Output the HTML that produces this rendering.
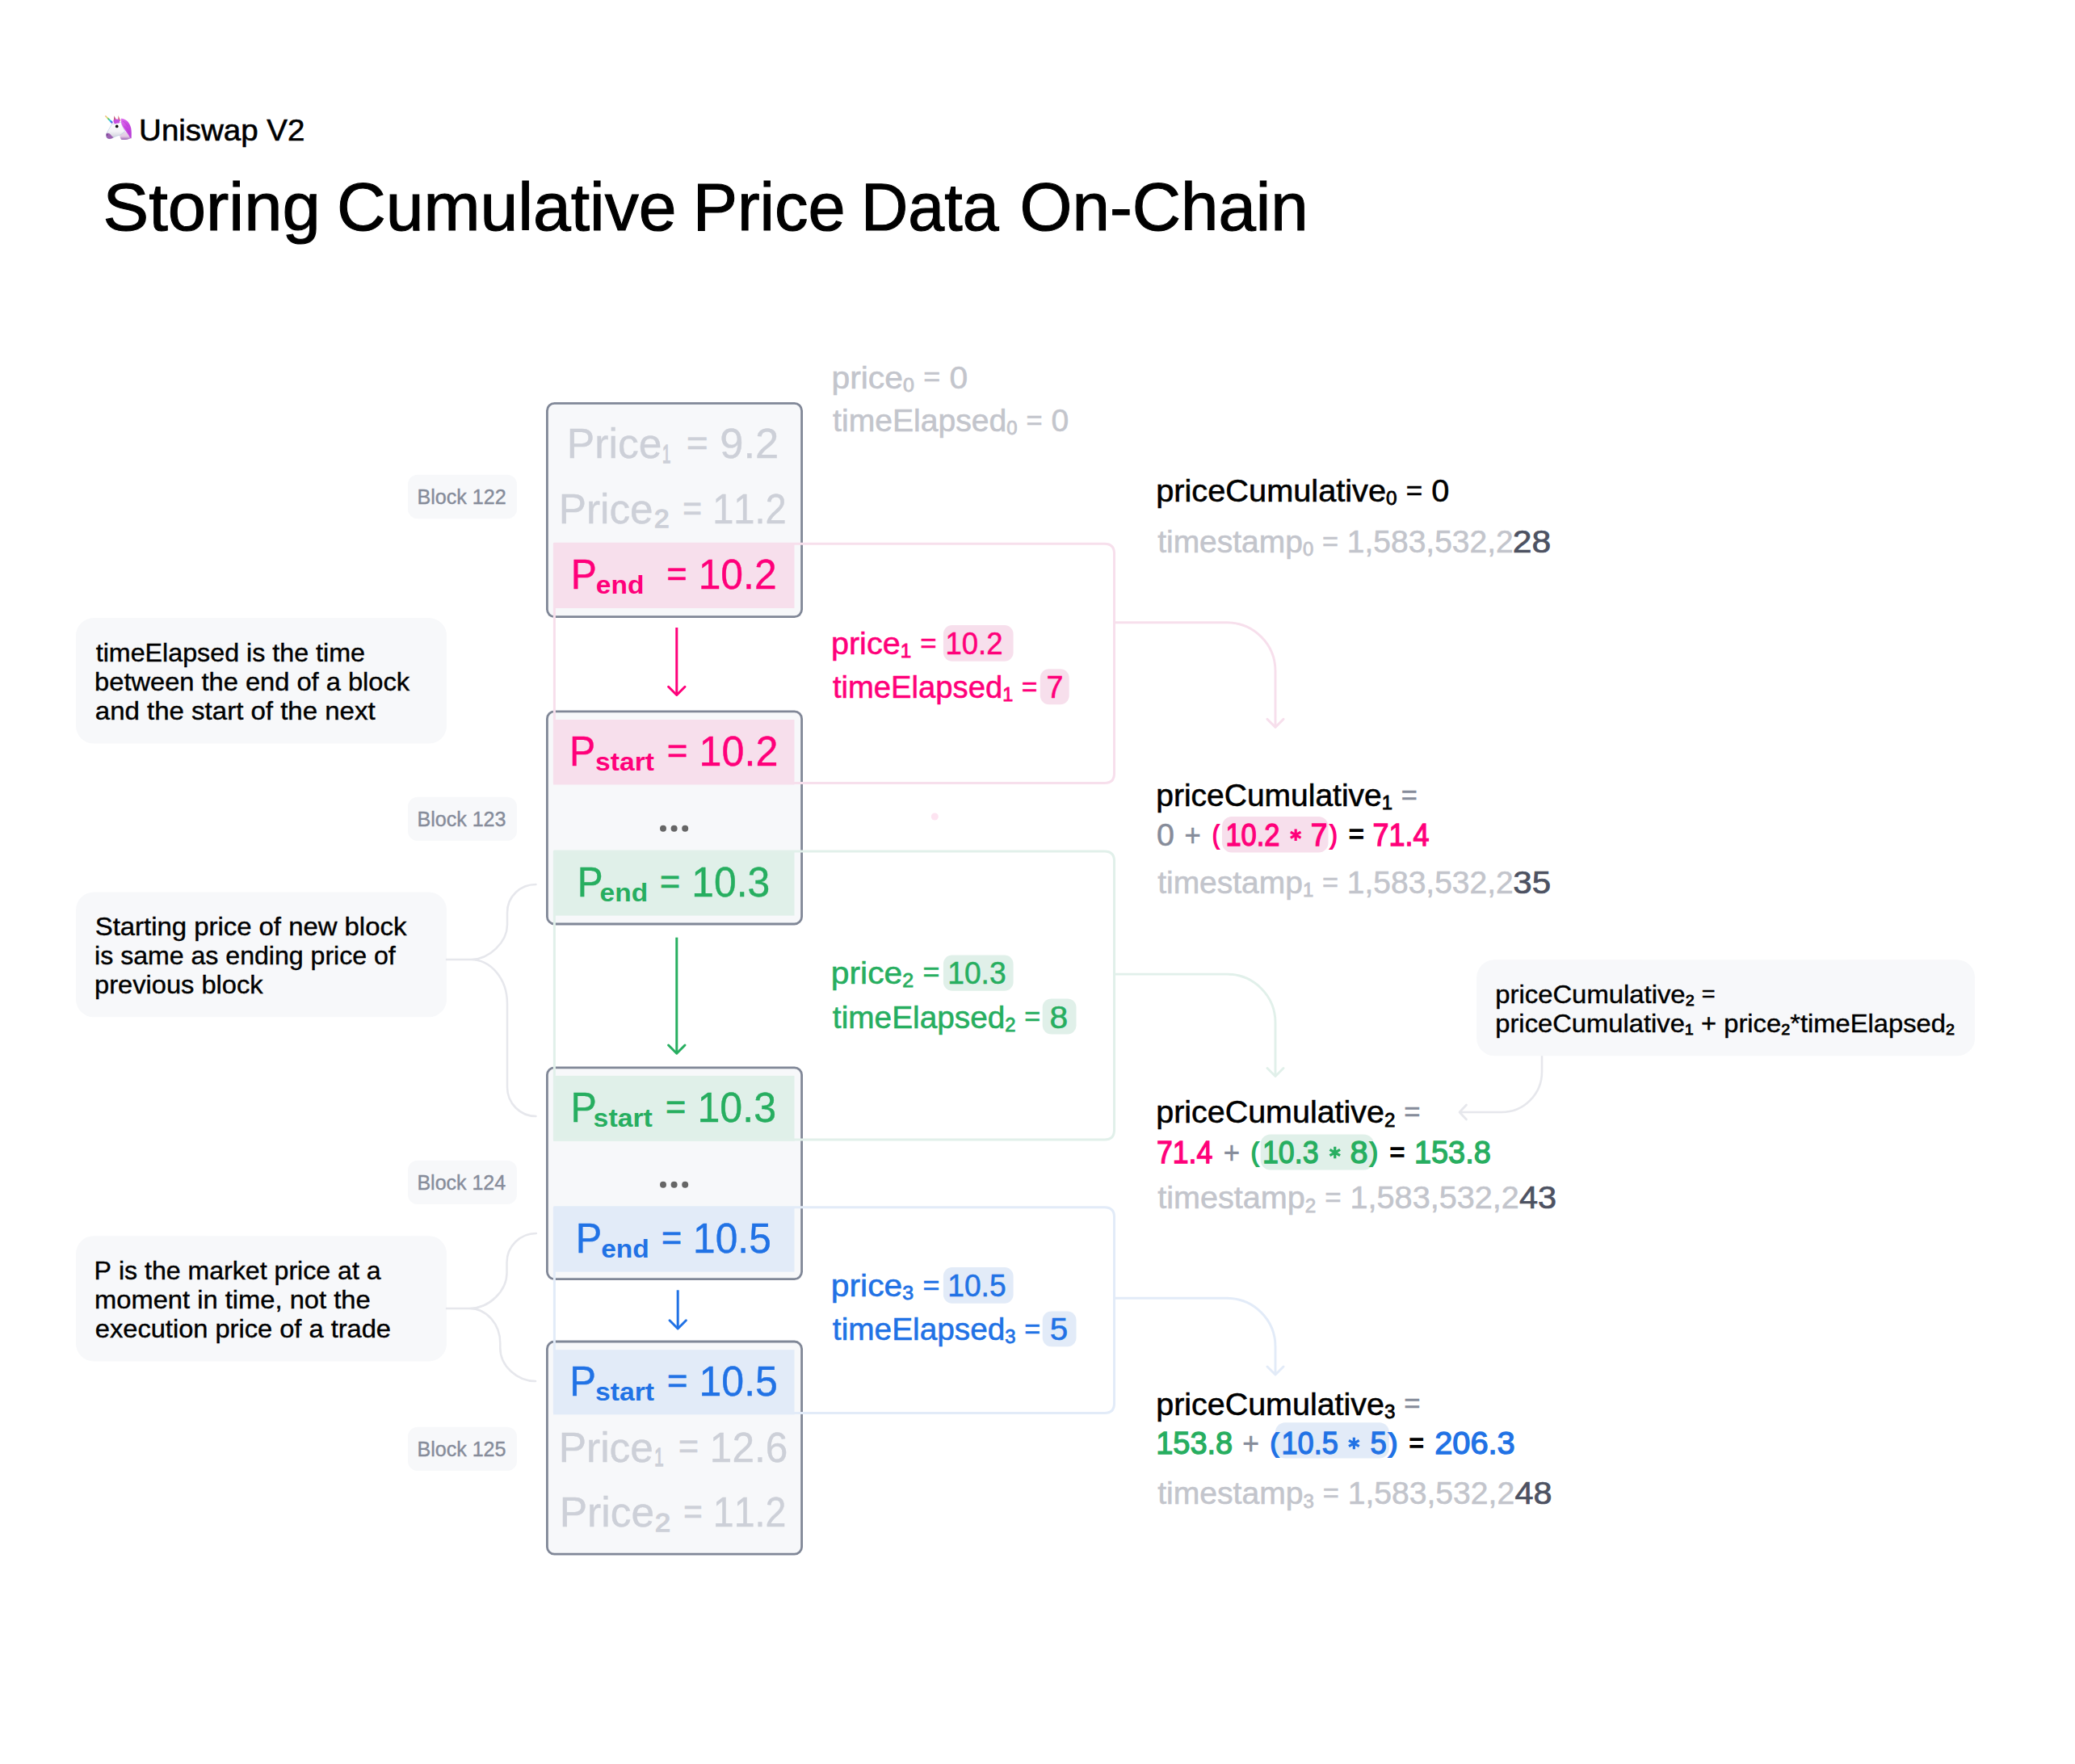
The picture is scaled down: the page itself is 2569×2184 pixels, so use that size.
<!DOCTYPE html>
<html><head><meta charset="utf-8"><title>Storing Cumulative Price Data On-Chain</title>
<style>
html,body{margin:0;padding:0;background:#ffffff;width:2569px;height:2184px;overflow:hidden}
body{position:relative}
svg text{font-family:"Liberation Sans",sans-serif;font-kerning:none;white-space:pre}
</style></head><body>
<svg width="2569" height="2184" viewBox="0 0 2569 2184" style="position:absolute;left:0;top:0">

<g transform="translate(125,138)">
  <defs>
    <linearGradient id="horn" x1="0" y1="0" x2="1" y2="1">
      <stop offset="0" stop-color="#f09a80"/><stop offset="0.25" stop-color="#eddc6a"/>
      <stop offset="0.45" stop-color="#4cbf66"/><stop offset="0.6" stop-color="#3fd3ea"/>
      <stop offset="0.78" stop-color="#3877e6"/><stop offset="1" stop-color="#c050ee"/>
    </linearGradient>
    <linearGradient id="face" x1="0" y1="0" x2="0" y2="1">
      <stop offset="0" stop-color="#ffffff"/><stop offset="0.55" stop-color="#f3f3f7"/><stop offset="1" stop-color="#c9cad6"/>
    </linearGradient>
    <linearGradient id="neck" x1="0" y1="0" x2="0" y2="1">
      <stop offset="0" stop-color="#e6dcec"/><stop offset="0.6" stop-color="#e2c8e2"/><stop offset="1" stop-color="#9a62b4"/>
    </linearGradient>
    <linearGradient id="mane" x1="0" y1="0" x2="1" y2="1">
      <stop offset="0" stop-color="#e070f0"/><stop offset="0.5" stop-color="#c848e0"/><stop offset="1" stop-color="#b43ad4"/>
    </linearGradient>
  </defs>
  <path d="M4.8,5.8 L6,4.9 L15,13.2 L13.4,15.2 Z" fill="url(#horn)"/>
  <path d="M23.2,29.4 C25,26.5 28,25 30,24.6 L34.5,29 L37,33.2 C34,34.6 30,35.2 26,35 C24.6,34.8 23.8,33 23.2,29.4 Z" fill="url(#neck)"/>
  <path d="M13.6,15.6 C11,20 8.2,24.8 6.6,28 C6,30 6.6,32.4 8.6,33.4 C10.4,34.2 12.6,33.8 14.4,32.8 C17,31.2 20,30 23.2,29.4 C25.6,28.2 28.2,26 29.6,24.2 C28,21 26,17.4 25,13.6 L22,13.4 L17.6,15.2 Z" fill="url(#face)" stroke="#a9bedb" stroke-width="0.5"/>
  <path d="M6.6,27.2 C8.6,26.4 10.6,27 12.2,29 C13.2,30.4 14.4,31.6 15.6,32 C13.4,33.6 10.8,34.4 8.6,33.6 C6.6,32.6 5.8,29.8 6.6,27.2 Z" fill="#9d62b3"/>
  <path d="M15.7,11.6 L16.4,5.2 L19,10.6 Z" fill="#c65a84"/>
  <path d="M21,12.4 L21.5,5 L24.2,11.6 Z" fill="#d9677e"/>
  <path d="M15.4,11.2 C17,9.2 20,9 22.8,10 C23.6,11.4 23.2,13.6 22.2,14.8 C20.6,14.2 19,14.4 17.6,15.6 C16.2,14.6 15.4,13 15.4,11.2 Z" fill="#c64ee0"/>
  <path d="M24.8,8.8 C30.5,8.6 35.6,13.6 37.2,20.4 C38,24.6 37.8,29.4 37.6,33.6 L36,32.6 C34.2,28.6 31.6,25.6 29.4,22.4 C27,19 25.2,15.6 24.8,12.4 Z" fill="url(#mane)"/>
  <path d="M26.5,12 C29,12.5 31.5,15 33.2,18.6 M28.6,18.4 C31,19.6 33.4,22.6 35,26" fill="none" stroke="#a030c0" stroke-width="0.7" stroke-opacity="0.6"/>
  <circle cx="19.7" cy="18.4" r="1.85" fill="#111"/>
  <circle cx="7.7" cy="28.9" r="0.7" fill="#4a2060"/>
</g>
<text x="172.13" y="174.30" fill="#000000" textLength="205.30" lengthAdjust="spacingAndGlyphs" stroke="#000" stroke-width="0.6"><tspan font-size="36.80">Uniswap V2</tspan></text>
<text x="127.49" y="284.80" fill="#000000" textLength="269.24" lengthAdjust="spacingAndGlyphs" stroke="#000" stroke-width="1.1"><tspan font-size="82.80">Storing</tspan></text>
<text x="416.98" y="284.80" fill="#000000" textLength="420.61" lengthAdjust="spacingAndGlyphs" stroke="#000" stroke-width="1.1"><tspan font-size="82.80">Cumulative</tspan></text>
<text x="857.65" y="284.80" fill="#000000" textLength="188.99" lengthAdjust="spacingAndGlyphs" stroke="#000" stroke-width="1.1"><tspan font-size="82.80">Price</tspan></text>
<text x="1066.03" y="284.80" fill="#000000" textLength="170.52" lengthAdjust="spacingAndGlyphs" stroke="#000" stroke-width="1.1"><tspan font-size="82.80">Data</tspan></text>
<text x="1262.60" y="284.80" fill="#000000" textLength="357.17" lengthAdjust="spacingAndGlyphs" stroke="#000" stroke-width="1.1"><tspan font-size="82.80">On-Chain</tspan></text>
<rect x="94.00" y="765.00" width="459.00" height="155.60" rx="22" fill="#f7f8fa"/>
<text x="118.71" y="819.20" fill="#000000" textLength="333.22" lengthAdjust="spacingAndGlyphs" stroke="#000" stroke-width="0.4"><tspan font-size="31.40">timeElapsed is the time</tspan></text>
<text x="117.10" y="854.90" fill="#000000" textLength="390.06" lengthAdjust="spacingAndGlyphs" stroke="#000" stroke-width="0.4"><tspan font-size="31.40">between the end of a block</tspan></text>
<text x="117.80" y="890.60" fill="#000000" textLength="346.84" lengthAdjust="spacingAndGlyphs" stroke="#000" stroke-width="0.4"><tspan font-size="31.40">and the start of the next</tspan></text>
<rect x="94.00" y="1104.60" width="459.00" height="154.70" rx="22" fill="#f7f8fa"/>
<text x="117.71" y="1158.00" fill="#000000" textLength="385.65" lengthAdjust="spacingAndGlyphs" stroke="#000" stroke-width="0.4"><tspan font-size="31.40">Starting price of new block</tspan></text>
<text x="117.05" y="1194.20" fill="#000000" textLength="372.70" lengthAdjust="spacingAndGlyphs" stroke="#000" stroke-width="0.4"><tspan font-size="31.40">is same as ending price of</tspan></text>
<text x="117.10" y="1229.80" fill="#000000" textLength="208.45" lengthAdjust="spacingAndGlyphs" stroke="#000" stroke-width="0.4"><tspan font-size="31.40">previous block</tspan></text>
<rect x="94.00" y="1530.20" width="459.00" height="155.30" rx="22" fill="#f7f8fa"/>
<text x="116.57" y="1583.70" fill="#000000" textLength="355.03" lengthAdjust="spacingAndGlyphs" stroke="#000" stroke-width="0.4"><tspan font-size="31.40">P is the market price at a</tspan></text>
<text x="117.03" y="1619.90" fill="#000000" textLength="341.62" lengthAdjust="spacingAndGlyphs" stroke="#000" stroke-width="0.4"><tspan font-size="31.40">moment in time, not the</tspan></text>
<text x="117.81" y="1655.50" fill="#000000" textLength="366.23" lengthAdjust="spacingAndGlyphs" stroke="#000" stroke-width="0.4"><tspan font-size="31.40">execution price of a trade</tspan></text>
<path d="M553,1188 H583 C606,1188 628,1166 628,1145 V1130 C628,1110 644,1095 663.5,1095 M583,1188 C606,1188 628,1210 628,1243 V1346 C628,1366 644,1382 663.5,1382" fill="none" stroke="#e6e7ec" stroke-width="2.5" stroke-linecap="round" stroke-linejoin="round"/>
<path d="M553,1620 H581 C606,1620 627.5,1598 627.5,1576 V1563 C627.5,1543 644,1527 663.8,1527 M581,1620 C603,1620 619.3,1640 619.3,1663 V1669 C619.3,1691 640,1710 663,1710" fill="none" stroke="#e6e7ec" stroke-width="2.5" stroke-linecap="round" stroke-linejoin="round"/>
<rect x="505.00" y="587.70" width="135.00" height="54.50" rx="12" fill="#f7f8fa"/>
<text x="516.44" y="624.00" fill="#868c9a" textLength="110.22" lengthAdjust="spacingAndGlyphs" stroke="#868c9a" stroke-width="0.4"><tspan font-size="25.20">Block 122</tspan></text>
<rect x="505.00" y="986.80" width="135.00" height="54.10" rx="12" fill="#f7f8fa"/>
<text x="516.44" y="1022.90" fill="#868c9a" textLength="110.06" lengthAdjust="spacingAndGlyphs" stroke="#868c9a" stroke-width="0.4"><tspan font-size="25.20">Block 123</tspan></text>
<rect x="505.00" y="1436.80" width="135.00" height="54.10" rx="12" fill="#f7f8fa"/>
<text x="516.45" y="1472.90" fill="#868c9a" textLength="109.68" lengthAdjust="spacingAndGlyphs" stroke="#868c9a" stroke-width="0.4"><tspan font-size="25.20">Block 124</tspan></text>
<rect x="505.00" y="1766.80" width="135.00" height="54.10" rx="12" fill="#f7f8fa"/>
<text x="516.45" y="1802.90" fill="#868c9a" textLength="110.01" lengthAdjust="spacingAndGlyphs" stroke="#868c9a" stroke-width="0.4"><tspan font-size="25.20">Block 125</tspan></text>
<rect x="677.40" y="499.40" width="315.20" height="264.20" rx="9" fill="#f7f8fa"/>
<rect x="677.40" y="880.90" width="315.20" height="263.10" rx="9" fill="#f7f8fa"/>
<rect x="677.40" y="1321.80" width="315.20" height="261.80" rx="9" fill="#f7f8fa"/>
<rect x="677.40" y="1661.00" width="315.20" height="263.20" rx="9" fill="#f7f8fa"/>
<rect x="685.00" y="672.00" width="298.50" height="81.00" rx="0" fill="#f7dfec"/>
<rect x="685.00" y="891.00" width="298.50" height="80.50" rx="0" fill="#f7dfec"/>
<rect x="685.00" y="1053.00" width="298.50" height="80.60" rx="0" fill="#e0f0e9"/>
<rect x="685.00" y="1331.90" width="298.50" height="80.90" rx="0" fill="#e0f0e9"/>
<rect x="685.00" y="1494.40" width="298.50" height="80.30" rx="0" fill="#e2ebf8"/>
<rect x="685.00" y="1671.20" width="298.50" height="80.20" rx="0" fill="#e2ebf8"/>
<rect x="677.40" y="499.40" width="315.20" height="264.20" rx="9" fill="none" stroke="#808797" stroke-width="2.8"/>
<rect x="677.40" y="880.90" width="315.20" height="263.10" rx="9" fill="none" stroke="#808797" stroke-width="2.8"/>
<rect x="677.40" y="1321.80" width="315.20" height="261.80" rx="9" fill="none" stroke="#808797" stroke-width="2.8"/>
<rect x="677.40" y="1661.00" width="315.20" height="263.20" rx="9" fill="none" stroke="#808797" stroke-width="2.8"/>
<path d="M686.4,673.2 H1367.5 Q1379.5,673.2 1379.5,685.2 V957.6 Q1379.5,969.6 1367.5,969.6 H686.4 Z" fill="none" stroke="#f7dfec" stroke-width="3" stroke-linejoin="round" stroke-linecap="butt"/>
<path d="M686.4,1054.1 H1367.5 Q1379.5,1054.1 1379.5,1066.1 V1399 Q1379.5,1411 1367.5,1411 H686.4 Z" fill="none" stroke="#e1f0ea" stroke-width="3" stroke-linejoin="round" stroke-linecap="butt"/>
<path d="M686.4,1494.7 H1367.5 Q1379.5,1494.7 1379.5,1506.7 V1737.6 Q1379.5,1749.6 1367.5,1749.6 H686.4 Z" fill="none" stroke="#e2ebf8" stroke-width="3" stroke-linejoin="round" stroke-linecap="butt"/>
<path d="M1379.5,770.8 H1519 A60,60 0 0 1 1579,830.8 V900.4 M1569,890.4 L1579,900.4 L1589,890.4" fill="none" stroke="#f7dfec" stroke-width="2.9" stroke-linecap="round" stroke-linejoin="round"/>
<path d="M1379.5,1206.1 H1519 A60,60 0 0 1 1579,1266.1 V1332.5 M1569,1322.5 L1579,1332.5 L1589,1322.5" fill="none" stroke="#e1f0ea" stroke-width="2.9" stroke-linecap="round" stroke-linejoin="round"/>
<path d="M1379.5,1607.3 H1519 A60,60 0 0 1 1579,1667.3 V1702 M1569,1692 L1579,1702 L1589,1692" fill="none" stroke="#e2ebf8" stroke-width="2.9" stroke-linecap="round" stroke-linejoin="round"/>
<path d="M1909,1307.3 V1327 A50,50 0 0 1 1859,1377 H1807 M1815.5,1368 L1807,1377 L1815.5,1386" fill="none" stroke="#e6e7ec" stroke-width="2.6" stroke-linecap="round" stroke-linejoin="round"/>
<path d="M837.8,777 V859.0" fill="none" stroke="#ff007a" stroke-width="3" stroke-linejoin="round" stroke-linecap="butt"/>
<path d="M827.5999999999999,850.3 L837.8,860.5 L848.0,850.3" fill="none" stroke="#ff007a" stroke-width="3" stroke-linecap="round" stroke-linejoin="round"/>
<path d="M837.8,1160.7 V1302.7" fill="none" stroke="#27ae60" stroke-width="3" stroke-linejoin="round" stroke-linecap="butt"/>
<path d="M827.5999999999999,1294.0 L837.8,1304.2 L848.0,1294.0" fill="none" stroke="#27ae60" stroke-width="3" stroke-linecap="round" stroke-linejoin="round"/>
<path d="M839.2,1597.3 V1643.5" fill="none" stroke="#2172e5" stroke-width="3" stroke-linejoin="round" stroke-linecap="butt"/>
<path d="M829.0,1634.8 L839.2,1645 L849.4000000000001,1634.8" fill="none" stroke="#2172e5" stroke-width="3" stroke-linecap="round" stroke-linejoin="round"/>
<circle cx="821" cy="1025.7" r="4" fill="#666666"/>
<circle cx="834.6" cy="1025.7" r="4" fill="#666666"/>
<circle cx="848.2" cy="1025.7" r="4" fill="#666666"/>
<circle cx="821" cy="1466.8" r="4" fill="#666666"/>
<circle cx="834.6" cy="1466.8" r="4" fill="#666666"/>
<circle cx="848.2" cy="1466.8" r="4" fill="#666666"/>
<circle cx="1157.3" cy="1011" r="4.5" fill="#fde4f1"/>
<text x="701.87" y="567.00" fill="#cdd0d8" textLength="117.52" lengthAdjust="spacingAndGlyphs" stroke="#cdd0d8" stroke-width="0.4"><tspan font-size="50.90">Price</tspan></text>
<text x="819.99" y="572.70" fill="#cdd0d8" textLength="10.32" lengthAdjust="spacingAndGlyphs" stroke="#cdd0d8" stroke-width="1.4"><tspan font-size="31.00">1</tspan></text>
<text x="849.74" y="567.00" fill="#cdd0d8" textLength="114.60" lengthAdjust="spacingAndGlyphs" stroke="#cdd0d8" stroke-width="0.4"><tspan font-size="44.79" dy="-3.21">=</tspan><tspan font-size="50.90" dy="3.21"> 9.2</tspan></text>
<text x="691.69" y="648.00" fill="#cdd0d8" textLength="116.99" lengthAdjust="spacingAndGlyphs" stroke="#cdd0d8" stroke-width="0.4"><tspan font-size="50.90">Price</tspan></text>
<text x="809.92" y="653.40" fill="#cdd0d8" textLength="18.56" lengthAdjust="spacingAndGlyphs" stroke="#cdd0d8" stroke-width="1.4"><tspan font-size="31.00">2</tspan></text>
<text x="844.88" y="648.00" fill="#cdd0d8" textLength="128.89" lengthAdjust="spacingAndGlyphs" stroke="#cdd0d8" stroke-width="0.4"><tspan font-size="44.79" dy="-3.21">=</tspan><tspan font-size="50.90" dy="3.21"> 11.2</tspan></text>
<text x="706.75" y="729.10" fill="#ff007a" textLength="32.08" lengthAdjust="spacingAndGlyphs" stroke="#ff007a" stroke-width="0.4"><tspan font-size="50.90">P</tspan></text>
<text x="737.79" y="735.10" fill="#ff007a" textLength="59.62" lengthAdjust="spacingAndGlyphs" stroke="#ff007a" stroke-width="0"><tspan font-size="30.50" font-weight="700">end</tspan></text>
<text x="825.26" y="729.10" fill="#ff007a" textLength="136.34" lengthAdjust="spacingAndGlyphs" stroke="#ff007a" stroke-width="0.4"><tspan font-size="44.79" dy="-3.21">=</tspan><tspan font-size="50.90" dy="3.21"> 10.2</tspan></text>
<text x="704.94" y="948.20" fill="#ff007a" textLength="32.21" lengthAdjust="spacingAndGlyphs" stroke="#ff007a" stroke-width="0.4"><tspan font-size="50.90">P</tspan></text>
<text x="737.02" y="953.80" fill="#ff007a" textLength="73.00" lengthAdjust="spacingAndGlyphs" stroke="#ff007a" stroke-width="0"><tspan font-size="30.50" font-weight="700">start</tspan></text>
<text x="825.84" y="948.20" fill="#ff007a" textLength="137.59" lengthAdjust="spacingAndGlyphs" stroke="#ff007a" stroke-width="0.4"><tspan font-size="44.79" dy="-3.21">=</tspan><tspan font-size="50.90" dy="3.21"> 10.2</tspan></text>
<text x="714.79" y="1110.30" fill="#27ae60" textLength="31.83" lengthAdjust="spacingAndGlyphs" stroke="#27ae60" stroke-width="0.4"><tspan font-size="50.90">P</tspan></text>
<text x="742.59" y="1115.90" fill="#27ae60" textLength="59.51" lengthAdjust="spacingAndGlyphs" stroke="#27ae60" stroke-width="0"><tspan font-size="30.50" font-weight="700">end</tspan></text>
<text x="816.76" y="1110.30" fill="#27ae60" textLength="136.53" lengthAdjust="spacingAndGlyphs" stroke="#27ae60" stroke-width="0.4"><tspan font-size="44.79" dy="-3.21">=</tspan><tspan font-size="50.90" dy="3.21"> 10.3</tspan></text>
<text x="706.52" y="1389.00" fill="#27ae60" textLength="32.33" lengthAdjust="spacingAndGlyphs" stroke="#27ae60" stroke-width="0.4"><tspan font-size="50.90">P</tspan></text>
<text x="734.61" y="1394.90" fill="#27ae60" textLength="73.20" lengthAdjust="spacingAndGlyphs" stroke="#27ae60" stroke-width="0"><tspan font-size="30.50" font-weight="700">start</tspan></text>
<text x="823.85" y="1389.00" fill="#27ae60" textLength="137.15" lengthAdjust="spacingAndGlyphs" stroke="#27ae60" stroke-width="0.4"><tspan font-size="44.79" dy="-3.21">=</tspan><tspan font-size="50.90" dy="3.21"> 10.3</tspan></text>
<text x="712.81" y="1551.30" fill="#2172e5" textLength="32.46" lengthAdjust="spacingAndGlyphs" stroke="#2172e5" stroke-width="0.4"><tspan font-size="50.90">P</tspan></text>
<text x="744.19" y="1556.90" fill="#2172e5" textLength="59.62" lengthAdjust="spacingAndGlyphs" stroke="#2172e5" stroke-width="0"><tspan font-size="30.50" font-weight="700">end</tspan></text>
<text x="818.77" y="1551.30" fill="#2172e5" textLength="136.02" lengthAdjust="spacingAndGlyphs" stroke="#2172e5" stroke-width="0.4"><tspan font-size="44.79" dy="-3.21">=</tspan><tspan font-size="50.90" dy="3.21"> 10.5</tspan></text>
<text x="705.18" y="1728.00" fill="#2172e5" textLength="32.71" lengthAdjust="spacingAndGlyphs" stroke="#2172e5" stroke-width="0.4"><tspan font-size="50.90">P</tspan></text>
<text x="737.02" y="1734.10" fill="#2172e5" textLength="73.00" lengthAdjust="spacingAndGlyphs" stroke="#2172e5" stroke-width="0"><tspan font-size="30.50" font-weight="700">start</tspan></text>
<text x="825.85" y="1728.00" fill="#2172e5" textLength="137.05" lengthAdjust="spacingAndGlyphs" stroke="#2172e5" stroke-width="0.4"><tspan font-size="44.79" dy="-3.21">=</tspan><tspan font-size="50.90" dy="3.21"> 10.5</tspan></text>
<text x="691.68" y="1809.60" fill="#cdd0d8" textLength="117.31" lengthAdjust="spacingAndGlyphs" stroke="#cdd0d8" stroke-width="0.4"><tspan font-size="50.90">Price</tspan></text>
<text x="810.15" y="1814.70" fill="#cdd0d8" textLength="11.35" lengthAdjust="spacingAndGlyphs" stroke="#cdd0d8" stroke-width="1.4"><tspan font-size="31.00">1</tspan></text>
<text x="839.67" y="1809.60" fill="#cdd0d8" textLength="135.60" lengthAdjust="spacingAndGlyphs" stroke="#cdd0d8" stroke-width="0.4"><tspan font-size="44.79" dy="-3.21">=</tspan><tspan font-size="50.90" dy="3.21"> 12.6</tspan></text>
<text x="692.67" y="1890.20" fill="#cdd0d8" textLength="117.42" lengthAdjust="spacingAndGlyphs" stroke="#cdd0d8" stroke-width="0.4"><tspan font-size="50.90">Price</tspan></text>
<text x="810.98" y="1896.00" fill="#cdd0d8" textLength="19.04" lengthAdjust="spacingAndGlyphs" stroke="#cdd0d8" stroke-width="1.4"><tspan font-size="31.00">2</tspan></text>
<text x="846.00" y="1890.20" fill="#cdd0d8" textLength="127.34" lengthAdjust="spacingAndGlyphs" stroke="#cdd0d8" stroke-width="0.4"><tspan font-size="44.79" dy="-3.21">=</tspan><tspan font-size="50.90" dy="3.21"> 11.2</tspan></text>
<text x="1029.44" y="480.50" fill="#c3c5cc" textLength="168.88" lengthAdjust="spacingAndGlyphs" stroke-width="0.55" stroke="#c3c5cc"><tspan font-size="38.40">price</tspan><tspan font-size="23.50" stroke-width="0.8" dy="4.20">0</tspan><tspan font-size="38.40" dy="-4.20"> </tspan><tspan font-size="33.79" dy="-2.42">=</tspan><tspan font-size="38.40" dy="2.42"> 0</tspan></text>
<text x="1031.08" y="534.10" fill="#c3c5cc" textLength="292.17" lengthAdjust="spacingAndGlyphs" stroke-width="0.55" stroke="#c3c5cc"><tspan font-size="38.40">timeElapsed</tspan><tspan font-size="23.50" stroke-width="0.8" dy="4.20">0</tspan><tspan font-size="38.40" dy="-4.20"> </tspan><tspan font-size="33.79" dy="-2.42">=</tspan><tspan font-size="38.40" dy="2.42"> 0</tspan></text>
<rect x="1167.90" y="774.00" width="86.70" height="44.80" rx="11" fill="#f7dfec"/>
<rect x="1287.80" y="828.20" width="35.90" height="44.10" rx="11" fill="#f7dfec"/>
<rect x="1167.90" y="1182.60" width="86.70" height="44.10" rx="11" fill="#e0f0e9"/>
<rect x="1290.70" y="1236.40" width="41.80" height="44.10" rx="11" fill="#e0f0e9"/>
<rect x="1167.90" y="1569.00" width="86.70" height="44.80" rx="11" fill="#e2ebf8"/>
<rect x="1290.70" y="1623.50" width="41.80" height="43.80" rx="11" fill="#e2ebf8"/>
<text x="1028.92" y="810.00" fill="#ff007a" textLength="130.72" lengthAdjust="spacingAndGlyphs" stroke-width="0.55" stroke="#ff007a"><tspan font-size="38.40">price</tspan><tspan font-size="23.50" stroke-width="0.8" dy="4.20">1</tspan><tspan font-size="38.40" dy="-4.20"> </tspan><tspan font-size="33.79" dy="-2.42">=</tspan></text>
<text x="1170.39" y="810.00" fill="#ff007a" textLength="71.07" lengthAdjust="spacingAndGlyphs" stroke-width="0.55" stroke="#ff007a"><tspan font-size="38.40">10.2</tspan></text>
<text x="1030.90" y="864.20" fill="#ff007a" textLength="253.59" lengthAdjust="spacingAndGlyphs" stroke-width="0.55" stroke="#ff007a"><tspan font-size="38.40">timeElapsed</tspan><tspan font-size="23.50" stroke-width="0.8" dy="4.20">1</tspan><tspan font-size="38.40" dy="-4.20"> </tspan><tspan font-size="33.79" dy="-2.42">=</tspan></text>
<text x="1295.54" y="864.20" fill="#ff007a" textLength="20.98" lengthAdjust="spacingAndGlyphs" stroke-width="0.55" stroke="#ff007a"><tspan font-size="38.40">7</tspan></text>
<text x="1028.84" y="1217.90" fill="#27ae60" textLength="134.65" lengthAdjust="spacingAndGlyphs" stroke-width="0.55" stroke="#27ae60"><tspan font-size="38.40">price</tspan><tspan font-size="23.50" stroke-width="0.8" dy="4.20">2</tspan><tspan font-size="38.40" dy="-4.20"> </tspan><tspan font-size="33.79" dy="-2.42">=</tspan></text>
<text x="1173.24" y="1217.90" fill="#27ae60" textLength="72.42" lengthAdjust="spacingAndGlyphs" stroke-width="0.55" stroke="#27ae60"><tspan font-size="38.40">10.3</tspan></text>
<text x="1030.89" y="1272.80" fill="#27ae60" textLength="257.42" lengthAdjust="spacingAndGlyphs" stroke-width="0.55" stroke="#27ae60"><tspan font-size="38.40">timeElapsed</tspan><tspan font-size="23.50" stroke-width="0.8" dy="4.20">2</tspan><tspan font-size="38.40" dy="-4.20"> </tspan><tspan font-size="33.79" dy="-2.42">=</tspan></text>
<text x="1299.50" y="1272.80" fill="#27ae60" textLength="22.70" lengthAdjust="spacingAndGlyphs" stroke-width="0.55" stroke="#27ae60"><tspan font-size="38.40">8</tspan></text>
<text x="1028.84" y="1605.00" fill="#2172e5" textLength="134.65" lengthAdjust="spacingAndGlyphs" stroke-width="0.55" stroke="#2172e5"><tspan font-size="38.40">price</tspan><tspan font-size="23.50" stroke-width="0.8" dy="4.20">3</tspan><tspan font-size="38.40" dy="-4.20"> </tspan><tspan font-size="33.79" dy="-2.42">=</tspan></text>
<text x="1173.24" y="1605.00" fill="#2172e5" textLength="72.34" lengthAdjust="spacingAndGlyphs" stroke-width="0.55" stroke="#2172e5"><tspan font-size="38.40">10.5</tspan></text>
<text x="1030.89" y="1659.00" fill="#2172e5" textLength="257.42" lengthAdjust="spacingAndGlyphs" stroke-width="0.55" stroke="#2172e5"><tspan font-size="38.40">timeElapsed</tspan><tspan font-size="23.50" stroke-width="0.8" dy="4.20">3</tspan><tspan font-size="38.40" dy="-4.20"> </tspan><tspan font-size="33.79" dy="-2.42">=</tspan></text>
<text x="1299.66" y="1659.00" fill="#2172e5" textLength="22.46" lengthAdjust="spacingAndGlyphs" stroke-width="0.55" stroke="#2172e5"><tspan font-size="38.40">5</tspan></text>
<text x="1431.21" y="621.00" fill="#000000" textLength="363.06" lengthAdjust="spacingAndGlyphs" stroke-width="0.55" stroke="#000000"><tspan font-size="38.40">priceCumulative</tspan><tspan font-size="23.50" stroke-width="0.8" dy="4.20">0</tspan><tspan font-size="38.40" dy="-4.20"> </tspan><tspan font-size="33.79" dy="-2.42">=</tspan><tspan font-size="38.40" dy="2.42"> 0</tspan></text>
<text x="1433.19" y="684.10" fill="#c3c5cc" textLength="440.50" lengthAdjust="spacingAndGlyphs" stroke-width="0.55" stroke="#c3c5cc"><tspan font-size="38.40">timestamp</tspan><tspan font-size="23.50" stroke-width="0.8" dy="4.20">0</tspan><tspan font-size="38.40" dy="-4.20"> </tspan><tspan font-size="33.79" dy="-2.42">=</tspan><tspan font-size="38.40" dy="2.42"> 1,583,532,2</tspan></text>
<text x="1872.70" y="684.10" fill="#4d5262" textLength="47.50" lengthAdjust="spacingAndGlyphs" stroke="#4d5262" stroke-width="0.7"><tspan font-size="38.40">28</tspan></text>
<text x="1431.26" y="998.10" fill="#000000" textLength="323.65" lengthAdjust="spacingAndGlyphs" stroke-width="0.55" stroke="#000000"><tspan font-size="38.40">priceCumulative</tspan><tspan font-size="23.50" stroke-width="0.8" dy="4.20">1</tspan><tspan font-size="38.40" fill="#868c9a" stroke="#868c9a" dy="-4.20"> </tspan><tspan font-size="33.79" fill="#868c9a" stroke="#868c9a" dy="-2.42">=</tspan></text>
<rect x="1513.00" y="1010.90" width="131.50" height="44.70" rx="12" fill="#f7dfec"/>
<rect x="1560.70" y="1404.50" width="140.00" height="43.90" rx="12" fill="#e0f0e9"/>
<rect x="1579.00" y="1761.20" width="140.80" height="44.30" rx="12" fill="#e2ebf8"/>
<text x="1432.13" y="1046.80" fill="#868c9a" textLength="21.93" lengthAdjust="spacingAndGlyphs" stroke="#868c9a" stroke-width="0.55"><tspan font-size="38.40">0</tspan></text>
<text x="1466.48" y="1046.80" fill="#868c9a" textLength="20.25" lengthAdjust="spacingAndGlyphs" stroke="#868c9a" stroke-width="0.55"><tspan font-size="38.40">+</tspan></text>
<text x="1501.20" y="1043.50" fill="#ff007a" textLength="8.04" lengthAdjust="spacingAndGlyphs" stroke="#ff007a" stroke-width="2.0"><tspan font-size="31.00">(</tspan></text>
<text x="1517.42" y="1046.80" fill="#ff007a" textLength="67.16" lengthAdjust="spacingAndGlyphs" stroke="#ff007a" stroke-width="1.3"><tspan font-size="38.40">10.2</tspan></text>
<path d="M1604.15,1026.50 V1041.10 M1597.83,1030.15 L1610.47,1037.45 M1597.83,1037.45 L1610.47,1030.15" stroke="#ff007a" stroke-width="3.2" fill="none"/>
<text x="1622.74" y="1046.80" fill="#ff007a" textLength="20.68" lengthAdjust="spacingAndGlyphs" stroke="#ff007a" stroke-width="1.3"><tspan font-size="38.40">7</tspan></text>
<text x="1646.75" y="1043.50" fill="#ff007a" textLength="8.67" lengthAdjust="spacingAndGlyphs" stroke="#ff007a" stroke-width="2.0"><tspan font-size="31.00">)</tspan></text>
<text x="1669.85" y="1046.80" fill="#000000" textLength="19.11" lengthAdjust="spacingAndGlyphs" stroke="#000000" stroke-width="1.3"><tspan font-size="33.79" dy="-2.42">=</tspan></text>
<text x="1699.51" y="1046.80" fill="#ff007a" textLength="69.89" lengthAdjust="spacingAndGlyphs" stroke="#ff007a" stroke-width="1.3"><tspan font-size="38.40">71.4</tspan></text>
<text x="1433.19" y="1106.10" fill="#c3c5cc" textLength="440.50" lengthAdjust="spacingAndGlyphs" stroke-width="0.55" stroke="#c3c5cc"><tspan font-size="38.40">timestamp</tspan><tspan font-size="23.50" stroke-width="0.8" dy="4.20">1</tspan><tspan font-size="38.40" dy="-4.20"> </tspan><tspan font-size="33.79" dy="-2.42">=</tspan><tspan font-size="38.40" dy="2.42"> 1,583,532,2</tspan></text>
<text x="1873.24" y="1106.10" fill="#4d5262" textLength="46.87" lengthAdjust="spacingAndGlyphs" stroke="#4d5262" stroke-width="0.7"><tspan font-size="38.40">35</tspan></text>
<text x="1431.23" y="1390.40" fill="#000000" textLength="327.40" lengthAdjust="spacingAndGlyphs" stroke-width="0.55" stroke="#000000"><tspan font-size="38.40">priceCumulative</tspan><tspan font-size="23.50" stroke-width="0.8" dy="4.20">2</tspan><tspan font-size="38.40" fill="#868c9a" stroke="#868c9a" dy="-4.20"> </tspan><tspan font-size="33.79" fill="#868c9a" stroke="#868c9a" dy="-2.42">=</tspan></text>
<text x="1431.92" y="1440.00" fill="#ff007a" textLength="69.37" lengthAdjust="spacingAndGlyphs" stroke="#ff007a" stroke-width="1.3"><tspan font-size="38.40">71.4</tspan></text>
<text x="1514.78" y="1440.00" fill="#868c9a" textLength="20.25" lengthAdjust="spacingAndGlyphs" stroke="#868c9a" stroke-width="0.55"><tspan font-size="38.40">+</tspan></text>
<text x="1548.99" y="1436.70" fill="#27ae60" textLength="9.17" lengthAdjust="spacingAndGlyphs" stroke="#27ae60" stroke-width="2.0"><tspan font-size="31.00">(</tspan></text>
<text x="1562.92" y="1440.00" fill="#27ae60" textLength="69.70" lengthAdjust="spacingAndGlyphs" stroke="#27ae60" stroke-width="1.3"><tspan font-size="38.40">10.3</tspan></text>
<path d="M1652.75,1419.70 V1434.30 M1646.43,1423.35 L1659.07,1430.65 M1646.43,1430.65 L1659.07,1423.35" stroke="#27ae60" stroke-width="3.2" fill="none"/>
<text x="1671.63" y="1440.00" fill="#27ae60" textLength="22.05" lengthAdjust="spacingAndGlyphs" stroke="#27ae60" stroke-width="1.3"><tspan font-size="38.40">8</tspan></text>
<text x="1696.23" y="1436.70" fill="#27ae60" textLength="9.42" lengthAdjust="spacingAndGlyphs" stroke="#27ae60" stroke-width="2.0"><tspan font-size="31.00">)</tspan></text>
<text x="1720.47" y="1440.00" fill="#000000" textLength="18.87" lengthAdjust="spacingAndGlyphs" stroke="#000000" stroke-width="1.3"><tspan font-size="33.79" dy="-2.42">=</tspan></text>
<text x="1750.96" y="1440.00" fill="#27ae60" textLength="94.83" lengthAdjust="spacingAndGlyphs" stroke="#27ae60" stroke-width="1.3"><tspan font-size="38.40">153.8</tspan></text>
<text x="1433.18" y="1496.40" fill="#c3c5cc" textLength="447.54" lengthAdjust="spacingAndGlyphs" stroke-width="0.55" stroke="#c3c5cc"><tspan font-size="38.40">timestamp</tspan><tspan font-size="23.50" stroke-width="0.8" dy="4.20">2</tspan><tspan font-size="38.40" dy="-4.20"> </tspan><tspan font-size="33.79" dy="-2.42">=</tspan><tspan font-size="38.40" dy="2.42"> 1,583,532,2</tspan></text>
<text x="1880.90" y="1496.40" fill="#4d5262" textLength="46.07" lengthAdjust="spacingAndGlyphs" stroke="#4d5262" stroke-width="0.7"><tspan font-size="38.40">43</tspan></text>
<text x="1431.23" y="1751.90" fill="#000000" textLength="327.40" lengthAdjust="spacingAndGlyphs" stroke-width="0.55" stroke="#000000"><tspan font-size="38.40">priceCumulative</tspan><tspan font-size="23.50" stroke-width="0.8" dy="4.20">3</tspan><tspan font-size="38.40" fill="#868c9a" stroke="#868c9a" dy="-4.20"> </tspan><tspan font-size="33.79" fill="#868c9a" stroke="#868c9a" dy="-2.42">=</tspan></text>
<text x="1431.16" y="1800.00" fill="#27ae60" textLength="95.04" lengthAdjust="spacingAndGlyphs" stroke="#27ae60" stroke-width="1.3"><tspan font-size="38.40">153.8</tspan></text>
<text x="1538.34" y="1800.00" fill="#868c9a" textLength="20.73" lengthAdjust="spacingAndGlyphs" stroke="#868c9a" stroke-width="0.55"><tspan font-size="38.40">+</tspan></text>
<text x="1572.63" y="1796.70" fill="#2172e5" textLength="10.05" lengthAdjust="spacingAndGlyphs" stroke="#2172e5" stroke-width="2.0"><tspan font-size="31.00">(</tspan></text>
<text x="1586.50" y="1800.00" fill="#2172e5" textLength="70.37" lengthAdjust="spacingAndGlyphs" stroke="#2172e5" stroke-width="1.3"><tspan font-size="38.40">10.5</tspan></text>
<path d="M1676.35,1779.70 V1794.30 M1670.03,1783.35 L1682.67,1790.65 M1670.03,1790.65 L1682.67,1783.35" stroke="#2172e5" stroke-width="3.2" fill="none"/>
<text x="1696.39" y="1800.00" fill="#2172e5" textLength="20.29" lengthAdjust="spacingAndGlyphs" stroke="#2172e5" stroke-width="1.3"><tspan font-size="38.40">5</tspan></text>
<text x="1719.51" y="1796.70" fill="#2172e5" textLength="10.55" lengthAdjust="spacingAndGlyphs" stroke="#2172e5" stroke-width="2.0"><tspan font-size="31.00">)</tspan></text>
<text x="1744.40" y="1800.00" fill="#000000" textLength="18.51" lengthAdjust="spacingAndGlyphs" stroke="#000000" stroke-width="1.3"><tspan font-size="33.79" dy="-2.42">=</tspan></text>
<text x="1776.15" y="1800.00" fill="#2172e5" textLength="99.55" lengthAdjust="spacingAndGlyphs" stroke="#2172e5" stroke-width="1.3"><tspan font-size="38.40">206.3</tspan></text>
<text x="1433.18" y="1862.40" fill="#c3c5cc" textLength="442.01" lengthAdjust="spacingAndGlyphs" stroke-width="0.55" stroke="#c3c5cc"><tspan font-size="38.40">timestamp</tspan><tspan font-size="23.50" stroke-width="0.8" dy="4.20">3</tspan><tspan font-size="38.40" dy="-4.20"> </tspan><tspan font-size="33.79" dy="-2.42">=</tspan><tspan font-size="38.40" dy="2.42"> 1,583,532,2</tspan></text>
<text x="1875.40" y="1862.40" fill="#4d5262" textLength="46.05" lengthAdjust="spacingAndGlyphs" stroke="#4d5262" stroke-width="0.7"><tspan font-size="38.40">48</tspan></text>
<rect x="1828.20" y="1188.30" width="616.90" height="119.00" rx="22" fill="#f7f8fa"/>
<text x="1851.28" y="1241.50" fill="#000000" textLength="272.44" lengthAdjust="spacingAndGlyphs" stroke-width="0.4" stroke="#000000"><tspan font-size="31.40">priceCumulative</tspan><tspan font-size="19.00" stroke-width="0.8" dy="3.00">2</tspan><tspan font-size="31.40" dy="-3.00"> </tspan><tspan font-size="27.63" dy="-1.98">=</tspan></text>
<text x="1851.29" y="1278.00" fill="#000000" textLength="568.71" lengthAdjust="spacingAndGlyphs" stroke-width="0.4" stroke="#000000"><tspan font-size="31.40">priceCumulative</tspan><tspan font-size="19.00" stroke-width="0.8" dy="3.00">1</tspan><tspan font-size="31.40" dy="-3.00"> + price</tspan><tspan font-size="19.00" stroke-width="0.8" dy="3.00">2</tspan><tspan font-size="31.40" dy="-3.00">*timeElapsed</tspan><tspan font-size="19.00" stroke-width="0.8" dy="3.00">2</tspan></text>
</svg>
</body></html>
